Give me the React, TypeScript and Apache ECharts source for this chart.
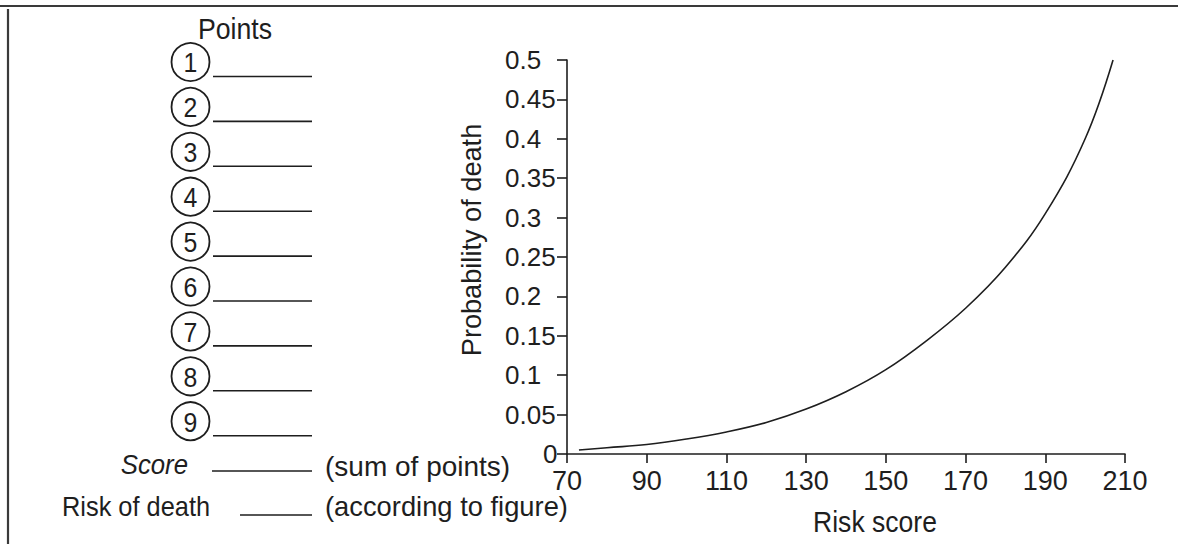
import React, { useEffect, useRef } from "react";
import * as echarts from "echarts";

// ---- data ----
const riskScore = [73, 80, 90, 100, 110, 120, 130, 140, 150, 160, 170, 180, 190, 200, 207];
const probability = [0.005, 0.008, 0.012, 0.019, 0.028, 0.04, 0.057, 0.079, 0.107, 0.143, 0.185, 0.237, 0.305, 0.4, 0.5];
const xTicks = [70, 90, 110, 130, 150, 170, 190, 210];
const yTicks = [0, 0.05, 0.1, 0.15, 0.2, 0.25, 0.3, 0.35, 0.4, 0.45, 0.5];
const yTickLabels = ["0", "0.05", "0.1", "0.15", "0.2", "0.25", "0.3", "0.35", "0.4", "0.45", "0.5"];
const pointItems = ["1", "2", "3", "4", "5", "6", "7", "8", "9"];
const formLabels = ["Score", "Risk of death"];
const formNotes = ["(sum of points)", "(according to figure)"];
const pointsTitle = "Points";
const xTitle = "Risk score";
const yTitle = "Probability of death";

const FONT = '"Liberation Sans", Arial, Helvetica, sans-serif';
const INK = "#1e1e1e";

function txt(text: string, x: number, y: number, align: string, fontSize: number, sx = 1, extra: any = {}) {
  return {
    type: "text",
    x,
    y,
    scaleX: sx,
    rotation: extra.rotation || 0,
    style: {
      text,
      fill: INK,
      fontSize,
      fontFamily: FONT,
      fontStyle: extra.fontStyle || "normal",
      align,
      verticalAlign: "middle",
    },
  };
}

function hline(x1: number, x2: number, y: number, w = 1.6, color = INK) {
  return { type: "line", shape: { x1, y1: y, x2, y2: y }, style: { stroke: color, lineWidth: w } };
}

export default function App() {
  const ref = useRef<HTMLDivElement>(null);
  useEffect(() => {
    const chart = echarts.init(ref.current!, null, { renderer: "svg" });

    const graphics: any[] = [];
    // frame
    graphics.push(hline(0, 1178, 6, 2.2, "#3a3a3a"));
    graphics.push({ type: "line", shape: { x1: 8, y1: 9, x2: 8, y2: 544 }, style: { stroke: "#3a3a3a", lineWidth: 2.2 } });
    // form
    graphics.push(txt(pointsTitle, 235, 28, "center", 30, 0.89));
    pointItems.forEach((p, i) => {
      const cy = 62 + i * 44.9;
      graphics.push({ type: "circle", shape: { cx: 190.5, cy, r: 19 }, style: { fill: "none", stroke: INK, lineWidth: 1.8 } });
      graphics.push(txt(p, 190.5, cy + 1, "center", 27, 0.92));
      graphics.push(hline(213, 312, cy + 14.5));
    });
    graphics.push(txt(formLabels[0], 188, 465, "right", 28, 0.92, { fontStyle: "italic" }));
    graphics.push(hline(212, 312, 471));
    graphics.push(txt(formNotes[0], 325, 466, "left", 28, 1));
    graphics.push(txt(formLabels[1], 62, 506.5, "left", 27, 0.94));
    graphics.push(hline(240, 312, 515));
    graphics.push(txt(formNotes[1], 325, 506.5, "left", 28, 0.976));
    // axis titles
    graphics.push(txt(yTitle, 471, 240, "center", 28, 0.97, { rotation: Math.PI / 2 }));
    graphics.push(txt(xTitle, 875, 522, "center", 29, 0.916));

    const option: any = {
      animation: false,
      backgroundColor: "#ffffff",
      grid: { left: 567, right: 53, top: 60, bottom: 90 },
      xAxis: {
        type: "value",
        min: 70,
        max: 210,
        axisLine: { show: true, lineStyle: { color: INK, width: 1.6 } },
        axisTick: { show: true, inside: false, length: 9, customValues: xTicks, lineStyle: { color: INK, width: 1.6 } },
        axisLabel: { customValues: xTicks, fontSize: 27, fontFamily: FONT, color: INK, margin: 13 },
        splitLine: { show: false },
      },
      yAxis: {
        type: "value",
        min: 0,
        max: 0.5,
        interval: 0.05,
        axisLine: { show: true, lineStyle: { color: INK, width: 1.6 } },
        axisTick: { show: true, inside: false, length: 10, customValues: yTicks, lineStyle: { color: INK, width: 1.6 } },
        axisLabel: {
          customValues: yTicks,
          align: "left",
          margin: 62,
          fontSize: 26,
          fontFamily: FONT,
          color: INK,
          formatter: (v: number) => {
            const idx = yTicks.findIndex((t) => Math.abs(t - v) < 1e-9);
            const label = idx >= 0 ? yTickLabels[idx] : String(v);
            return idx === 0 ? "{z|" + label + "}" : "{n|" + label + "}";
          },
          rich: {
            z: { padding: [0, 0, 0, 38], fontSize: 26, fontFamily: FONT, color: INK },
            n: { fontSize: 26, fontFamily: FONT, color: INK },
          },
        },
        splitLine: { show: false },
      },
      series: [
        {
          type: "line",
          data: riskScore.map((x, i) => [x, probability[i]]),
          showSymbol: false,
          symbol: "none",
          smooth: 0.4,
          silent: true,
          lineStyle: { color: INK, width: 1.6 },
        },
      ],
      graphic: graphics,
    };
    chart.setOption(option);
    return () => chart.dispose();
  }, []);
  return (
    <div
      ref={ref}
      style={{ position: "fixed", left: 0, top: 0, width: 1178, height: 544, background: "#fff" }}
    />
  );
}
